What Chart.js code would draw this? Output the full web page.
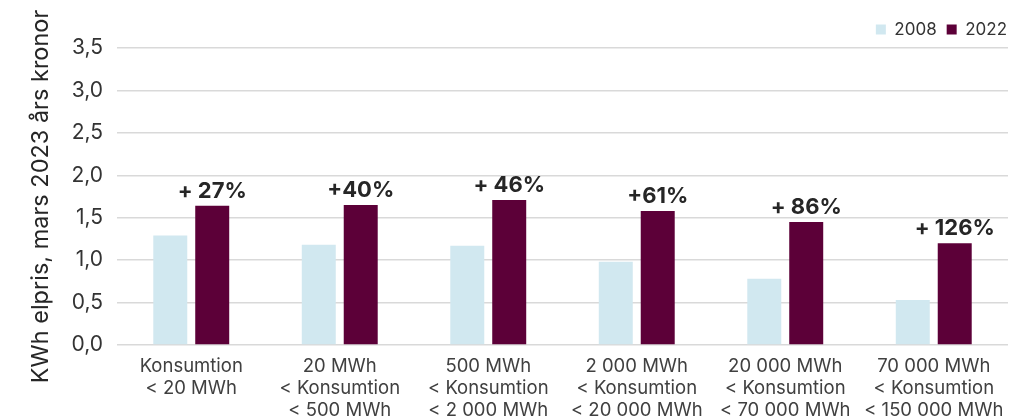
<!DOCTYPE html>
<html lang="sv">
<head>
<meta charset="utf-8">
<script src="https://cdn.jsdelivr.net/npm/chart.js@4"></script>
<style>
  html, body { margin: 0; padding: 0; background: #ffffff; }
  #wrap { width: 1021px; height: 417px; position: relative; }
</style>
</head>
<body>
<div id="wrap"><canvas id="chart"></canvas></div>
<script>
// Consumption bands (multi-line axis labels)
const categories = [
  ['Konsumtion', '< 20 MWh'],
  ['20 MWh', '< Konsumtion', '< 500 MWh'],
  ['500 MWh', '< Konsumtion', '< 2 000 MWh'],
  ['2 000 MWh', '< Konsumtion', '< 20 000 MWh'],
  ['20 000 MWh', '< Konsumtion', '< 70 000 MWh'],
  ['70 000 MWh', '< Konsumtion', '< 150 000 MWh']
];

// Electricity price per kWh, in March 2023 kronor
const price2008 = [1.29, 1.18, 1.17, 0.98, 0.78, 0.53];
const price2022 = [1.64, 1.65, 1.71, 1.58, 1.45, 1.20];

// Change from 2008 to 2022, printed above the 2022 bars
const changeLabels = ['+ 27%', '+40%', '+ 46%', '+61%', '+ 86%', '+ 126%'];

const yTicks = [0, 0.5, 1, 1.5, 2, 2.5, 3, 3.5];

const FONT = 'Inter, "Noto Sans", "Liberation Sans", sans-serif';

// Draws the change label centred above each 2022 bar
const changeLabelPlugin = {
  id: 'changeLabels',
  afterDatasetsDraw(chart) {
    const meta = chart.getDatasetMeta(1);
    const ctx = chart.ctx;
    ctx.save();
    ctx.font = 'bold 22px ' + FONT;
    ctx.fillStyle = '#262626';
    ctx.textAlign = 'center';
    ctx.textBaseline = 'alphabetic';
    meta.data.forEach((bar, i) => {
      ctx.fillText(changeLabels[i], bar.x, bar.y - 8);
    });
    ctx.restore();
  }
};

new Chart(document.getElementById('chart'), {
  type: 'bar',
  data: {
    labels: categories,
    datasets: [
      {
        label: '2008',
        data: price2008,
        backgroundColor: '#d1e8f0',
        barPercentage: 0.81,
        categoryPercentage: 0.565
      },
      {
        label: '2022',
        data: price2022,
        backgroundColor: '#5c0038',
        barPercentage: 0.81,
        categoryPercentage: 0.565
      }
    ]
  },
  plugins: [changeLabelPlugin],
  options: {
    responsive: true,
    maintainAspectRatio: false,
    animation: false,
    layout: { padding: { top: 11, right: 4, left: 0, bottom: 0 } },
    plugins: {
      legend: {
        position: 'top',
        align: 'end',
        labels: {
          boxWidth: 10,
          boxHeight: 10,
          padding: 10,
          color: '#333333',
          font: { family: FONT, size: 17 }
        }
      },
      tooltip: { enabled: false }
    },
    scales: {
      x: {
        grid: { display: false, drawTicks: false },
        border: { display: false },
        afterFit(scale) { scale.height = 72; },
        ticks: {
          padding: 10,
          color: '#404040',
          maxRotation: 0,
          autoSkip: false,
          font: { family: FONT, size: 18.5, lineHeight: 1.19 }
        }
      },
      y: {
        min: 0,
        max: 3.5,
        afterFit(scale) { scale.width = 117; },
        afterBuildTicks(scale) {
          scale.ticks = yTicks.map(v => ({ value: v }));
        },
        grid: { color: '#d9d9d9', lineWidth: 1.5, drawTicks: false },
        border: { display: false },
        ticks: {
          padding: 14,
          color: '#333333',
          font: { family: FONT, size: 21 },
          callback: v => v.toFixed(1).replace('.', ',')
        },
        title: {
          display: true,
          text: 'KWh elpris, mars 2023 års kronor',
          color: '#262626',
          padding: { top: 27, bottom: 0 },
          font: { family: FONT, size: 23.5 }
        }
      },
      // Empty right-hand margin axis: keeps the plot edge clear of the legend's right end
      yMargin: {
        position: 'right',
        display: true,
        afterFit(scale) { scale.width = 9; },
        grid: { display: false, drawTicks: false },
        border: { display: false },
        ticks: { display: false }
      }
    }
  }
});
</script>
</body>
</html>
